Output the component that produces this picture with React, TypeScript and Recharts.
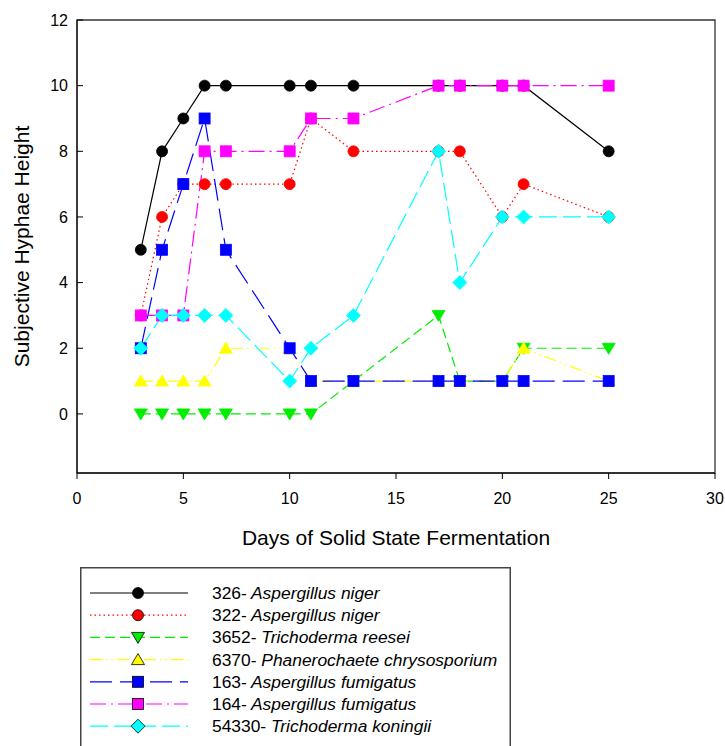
import { LineChart, Line, XAxis, YAxis, ReferenceArea, Legend, Label } from 'recharts';

const days = [3, 4, 5, 6, 7, 10, 11, 13, 17, 18, 20, 21, 25];
const niger326 = [5, 8, 9, 10, 10, 10, 10, 10, 10, 10, 10, 10, 8];
const niger322 = [3, 6, 7, 7, 7, 7, 9, 8, 8, 8, 6, 7, 6];
const reesei3652 = [0, 0, 0, 0, 0, 0, 0, 1, 3, 1, 1, 2, 2];
const chryso6370 = [1, 1, 1, 1, 2, 2, 1, 1, 1, 1, 1, 2, 1];
const fumig163 = [2, 5, 7, 9, 5, 2, 1, 1, 1, 1, 1, 1, 1];
const fumig164 = [3, 3, 3, 8, 8, 8, 9, 9, 10, 10, 10, 10, 10];
const koningii54330 = [2, 3, 3, 3, 3, 1, 2, 3, 8, 4, 6, 6, 6];

const xTicks = [0, 5, 10, 15, 20, 25, 30];
const yTicks = [0, 2, 4, 6, 8, 10, 12];

const FONT = '"Liberation Sans", Arial, sans-serif';

type Shape = 'circle' | 'square' | 'down' | 'up' | 'diamond';

const series = [
  { key: 's326', code: '326-', name: 'Aspergillus niger', values: niger326, color: '#000000', dash: undefined, shape: 'circle' as Shape },
  { key: 's322', code: '322-', name: 'Aspergillus niger', values: niger322, color: '#ff0000', dash: '1.5 3', shape: 'circle' as Shape },
  { key: 's3652', code: '3652-', name: 'Trichoderma reesei', values: reesei3652, color: '#00ee00', dash: '10 5', shape: 'down' as Shape },
  { key: 's6370', code: '6370-', name: 'Phanerochaete chrysosporium', values: chryso6370, color: '#ffff00', dash: '12 4 1.5 4 1.5 4', shape: 'up' as Shape },
  { key: 's163', code: '163-', name: 'Aspergillus fumigatus', values: fumig163, color: '#0000ff', dash: '22 8', shape: 'square' as Shape },
  { key: 's164', code: '164-', name: 'Aspergillus fumigatus', values: fumig164, color: '#ff00ff', dash: '16 5 2 5', shape: 'square' as Shape },
  { key: 's54330', code: '54330-', name: 'Trichoderma koningii', values: koningii54330, color: '#00ffff', dash: '18 6', shape: 'diamond' as Shape },
];

const data = days.map((d, i) => {
  const row: Record<string, number> = { day: d };
  series.forEach((s) => { row[s.key] = s.values[i]; });
  return row;
});

function Marker({ cx, cy, shape, color, edge }: { cx: number; cy: number; shape: Shape; color: string; edge?: string }) {
  const stroke = edge || color;
  if (shape === 'circle') return <circle cx={cx} cy={cy} r={5.5} fill={color} stroke={stroke} strokeWidth={0.8} />;
  if (shape === 'square') return <rect x={cx - 5.5} y={cy - 5.5} width={11} height={11} fill={color} stroke={stroke} strokeWidth={0.8} />;
  if (shape === 'down') return <polygon points={`${cx - 6.5},${cy - 5} ${cx + 6.5},${cy - 5} ${cx},${cy + 6}`} fill={color} stroke={stroke} strokeWidth={0.8} />;
  if (shape === 'up') return <polygon points={`${cx - 6.5},${cy + 5} ${cx + 6.5},${cy + 5} ${cx},${cy - 6}`} fill={color} stroke={stroke} strokeWidth={0.8} />;
  return <polygon points={`${cx},${cy - 7} ${cx + 7},${cy} ${cx},${cy + 7} ${cx - 7},${cy}`} fill={color} stroke={stroke} strokeWidth={0.8} />;
}

function LegendBox() {
  return (
    <svg width={431} height={190} style={{ display: 'block' }}>
      <rect x={0.75} y={0.75} width={429.5} height={200} fill="#fff" stroke="#444" strokeWidth={1.5} />
      {series.map((s, i) => {
        const y = 26 + i * 22.2;
        return (
          <g key={s.key}>
            <line x1={10} x2={108} y1={y} y2={y} stroke={s.color} strokeWidth={1.2} strokeDasharray={s.dash} />
            <Marker cx={58} cy={y} shape={s.shape} color={s.color} edge="#000" />
            <text x={132} y={y + 6} fontSize={17.4} fontFamily={FONT} fill="#000">
              {s.code}
              <tspan fontStyle="italic"> {s.name}</tspan>
            </text>
          </g>
        );
      })}
    </svg>
  );
}

export default function App() {
  return (
    <div style={{ position: 'absolute', left: 0, top: 0, background: '#fff' }}>
      <LineChart width={725} height={746} data={data} margin={{ top: 20, right: 10, left: 17, bottom: 213 }}>
        <ReferenceArea x1={0} x2={30} y1={-1.8} y2={12} fill="none" stroke="#333" strokeWidth={1.3} ifOverflow="extendDomain" />
        <XAxis
          dataKey="day"
          type="number"
          domain={[0, 30]}
          ticks={xTicks}
          height={60}
          stroke="#000"
          tickSize={6}
          tickMargin={14}
          tick={{ fill: '#000', fontSize: 16, fontFamily: FONT }}
        >
          <Label
            content={(p: any) => {
              const vb = p.viewBox;
              return (
                <text x={vb.x + vb.width / 2} y={vb.y + 72} textAnchor="middle" fontSize={21} fontFamily={FONT} fill="#000">
                  Days of Solid State Fermentation
                </text>
              );
            }}
          />
        </XAxis>
        <YAxis
          type="number"
          domain={[-1.8, 12]}
          ticks={yTicks}
          width={60}
          stroke="#000"
          tickSize={-6}
          tickMargin={15}
          tick={{ fill: '#000', fontSize: 16, fontFamily: FONT }}
        >
          <Label
            content={(p: any) => {
              const vb = p.viewBox;
              const x = vb.x + 12;
              const y = vb.y + vb.height / 2;
              return (
                <text x={x} y={y} transform={`rotate(-90, ${x}, ${y})`} textAnchor="middle" fontSize={21} fontFamily={FONT} fill="#000">
                  Subjective Hyphae Height
                </text>
              );
            }}
          />
        </YAxis>
        {series.map((s) => (
          <Line
            key={s.key}
            dataKey={s.key}
            type="linear"
            stroke={s.color}
            strokeWidth={1.2}
            strokeDasharray={s.dash}
            isAnimationActive={false}
            dot={(p: any) => (
              <g key={`${s.key}-${p.index}`}>
                <Marker cx={p.cx} cy={p.cy} shape={s.shape} color={s.color} />
              </g>
            )}
            activeDot={false}
          />
        ))}
        <Legend
          layout="vertical"
          align="center"
          verticalAlign="middle"
          wrapperStyle={{ left: 80, top: 567, width: 431, height: 190 }}
          content={() => <LegendBox />}
        />
      </LineChart>
    </div>
  );
}
